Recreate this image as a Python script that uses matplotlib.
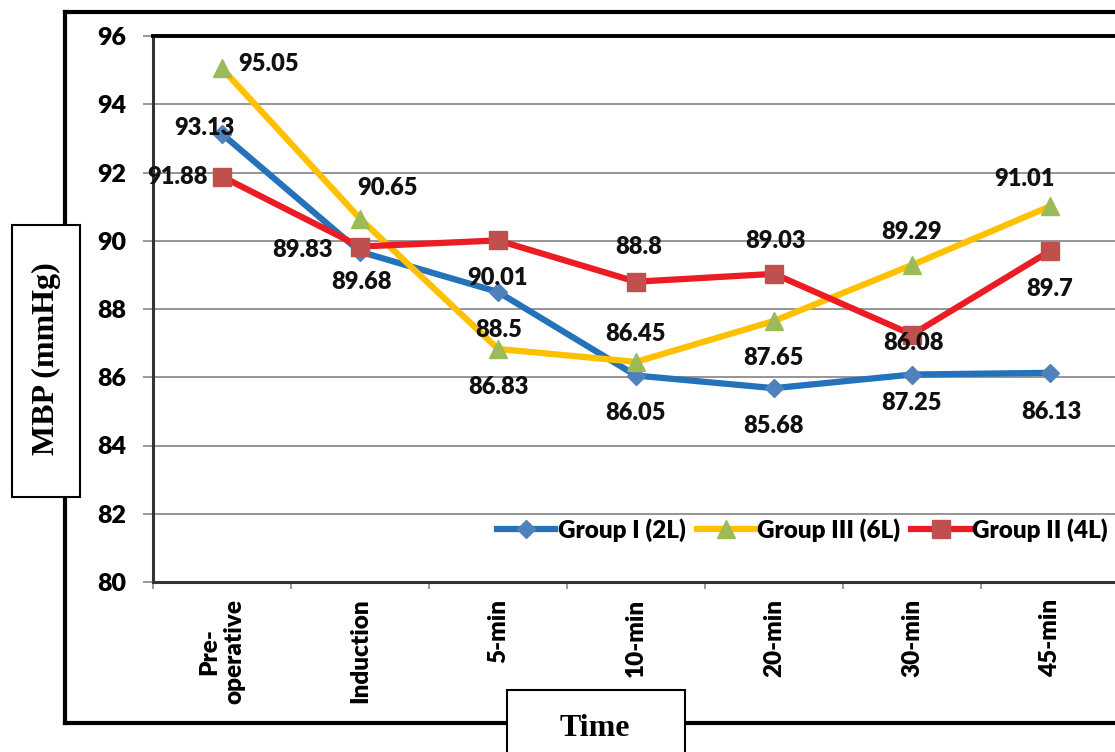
import matplotlib
matplotlib.use('Agg')
import matplotlib.pyplot as plt
from matplotlib.patches import Rectangle
from matplotlib.lines import Line2D
from matplotlib.ticker import FixedLocator

# ---------------- data ----------------
categories = ["Pre-\noperative", "Induction", "5-min", "10-min", "20-min", "30-min", "45-min"]
group1 = [93.13, 89.68, 88.5, 86.05, 85.68, 86.08, 86.13]   # Group I (2L)
group3 = [95.05, 90.65, 86.83, 86.45, 87.65, 89.29, 91.01]  # Group III (6L)
group2 = [91.88, 89.83, 90.01, 88.8, 89.03, 87.25, 89.7]    # Group II (4L)
series_names = ["Group I (2L)", "Group III (6L)", "Group II (4L)"]
y_ticks = [80, 82, 84, 86, 88, 90, 92, 94, 96]

# ---------------- label placement (pixel offsets) ----------------
off1 = [(-18, 6, 'center'), (1, -30, 'center'), (1, -38, 'center'), (0, -37.5, 'center'),
        (-1, -38, 'center'), (2, 31.5, 'center'), (1, -39, 'center')]
off3 = [(16, 4, 'left'), (28, 30.6, 'center'), (0, -38, 'center'), (0, 28, 'center'),
        (-1, -37, 'center'), (0, 33, 'center'), (-26, 27, 'center')]
off2 = [(-14, 0, 'right'), (-27, -3.5, 'right'), (0, -37.6, 'center'), (3, 34.7, 'center'),
        (1, 33, 'center'), (0, -68, 'center'), (0, -38, 'center')]

FW = 'heavy'
plt.rcParams['font.family'] = ['Lato', 'DejaVu Sans']
plt.rcParams['font.weight'] = FW

W, H = 1115, 752
fig = plt.figure(figsize=(W / 100, H / 100), dpi=100)
fig.patch.set_facecolor('white')

# overlay for outer frame and boxed titles
ov = fig.add_axes([0, 0, 1, 1], zorder=-1)
ov.set_xlim(0, W)
ov.set_ylim(H, 0)
ov.axis('off')
ov.patch.set_alpha(0)
frame_kw = dict(color='black', lw=3.0, solid_capstyle='projecting')
ov.add_line(Line2D([65, 65], [12, 723], **frame_kw))
ov.add_line(Line2D([65, W + 5], [12, 12], **frame_kw))
ov.add_line(Line2D([65, W + 5], [723, 723], **frame_kw))
ov.add_patch(Rectangle((12, 225), 68, 272, facecolor='white', edgecolor='black', lw=1.5, zorder=3))
ov.add_patch(Rectangle((507, 690), 178, 90, facecolor='white', edgecolor='black', lw=1.5, zorder=3))
ov.text(46, 359, "MBP (mmHg)", rotation=90, ha='center', va='center',
        family='Liberation Serif', weight='bold', fontsize=23, zorder=4)
ov.text(595, 729, "Time", ha='center', va='center',
        family='Liberation Serif', weight='bold', fontsize=23, zorder=4)

# main axes
left_px, right_px, top_px, bot_px = 153, 1119, 36, 582
ax = fig.add_axes([left_px / W, 1 - bot_px / H, (right_px - left_px) / W, (bot_px - top_px) / H])
x = list(range(len(categories)))

styles = [
    dict(color='#2372BA', marker='D', ms=9, mfc='#4F81BD', mec='#4F81BD'),
    dict(color='#FFC000', marker='^', ms=13.5, mfc='#9BBB59', mec='#9BBB59'),
    dict(color='#EC1C24', marker='s', ms=13.5, mfc='#C0504D', mec='#C0504D'),
]
all_series = [group1, group3, group2]
all_offs = [off1, off3, off2]
for vals, name, st, offs in zip(all_series, series_names, styles, all_offs):
    ax.plot(x, vals, lw=4.5, label=name, zorder=3, **st)
    for xi, v, (dx, dy, ha) in zip(x, vals, offs):
        ax.annotate(f"{v:g}", (xi, v), xytext=(dx, dy), textcoords='offset pixels',
                    ha=ha, va='center', fontsize=17, fontweight=FW, color='#111111', zorder=5)

ax.set_xlim(-0.5, len(categories) - 0.5)
ax.set_ylim(80, 96)
ax.set_yticks(y_ticks)
ax.set_xticks(x)
ax.set_xticklabels(categories, rotation=90, fontsize=17.5, fontweight=FW, multialignment='center')
ax.xaxis.set_minor_locator(FixedLocator([i - 0.5 for i in range(len(categories) + 1)]))
ax.tick_params(axis='x', which='major', length=0, pad=12)
ax.tick_params(axis='x', which='minor', length=5, width=1.2, color='#888888', direction='out')
ax.tick_params(axis='y', which='major', length=7, width=1.2, color='#888888', labelsize=18, pad=12)
for lbl in ax.get_yticklabels():
    lbl.set_fontweight(FW)

ax.yaxis.grid(True, color='#8c8c8c', lw=1.3)
ax.set_axisbelow(True)
ax.spines['right'].set_visible(False)
ax.spines['top'].set_linewidth(2.8)
ax.spines['top'].set_color('black')
ax.spines['left'].set_linewidth(2.2)
ax.spines['left'].set_color('#333333')
ax.spines['bottom'].set_linewidth(2.2)
ax.spines['bottom'].set_color('#333333')

leg = ax.legend(loc='center left', bbox_to_anchor=(497 / W, 1 - 530 / H),
                bbox_transform=fig.transFigure, ncol=3, frameon=False,
                handlelength=2.4, handletextpad=0.1, columnspacing=0.45,
                borderaxespad=0, borderpad=0, prop={'weight': FW, 'size': 17.5})

fig.savefig('out.png', dpi=100, facecolor='white')
